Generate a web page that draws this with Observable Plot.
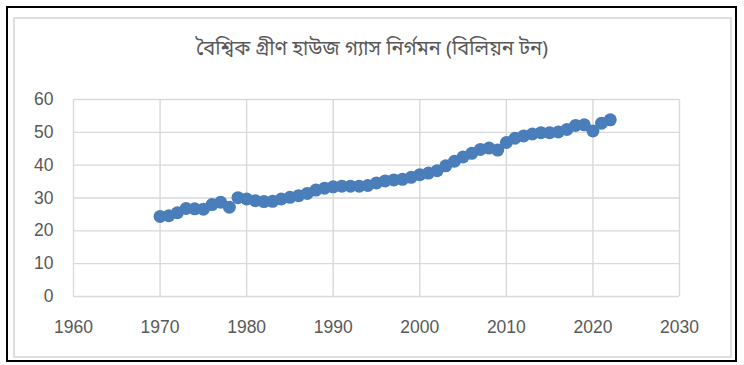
<!DOCTYPE html>
<html>
<head>
<meta charset="utf-8">
<script src="https://cdn.jsdelivr.net/npm/d3@7"></script>
<script src="https://cdn.jsdelivr.net/npm/@observablehq/plot@0.6"></script>
<style>
  html, body { margin: 0; padding: 0; background: #fff; }
  #wrap { position: relative; width: 744px; height: 365px; overflow: hidden; }
  #outer { position: absolute; left: 6px; top: 6px; width: 731px; height: 356px; border: 2.5px solid #000; box-sizing: border-box; }
  #inner { position: absolute; left: 13px; top: 17px; width: 719px; height: 341px; border: 2px solid #dedede; box-sizing: border-box; }
  #title { position: absolute; left: 0; width: 744px; top: 35px; text-align: center; font-family: "Noto Sans Bengali", "Noto Sans", "DejaVu Sans", sans-serif; font-size: 20px; color: #595959; line-height: 30px; }
  #chart { position: absolute; left: 0; top: 0; }
</style>
</head>
<body>
<div id="wrap">
  <div id="outer"></div>
  <div id="inner"></div>
  <div id="chart"></div>
  <div id="title">বৈশ্বিক গ্রীণ হাউজ গ্যাস নির্গমন (বিলিয়ন টন)</div>
</div>
<script>
const title = "বৈশ্বিক গ্রীণ হাউজ গ্যাস নির্গমন (বিলিয়ন টন)";
const years = [1970,1971,1972,1973,1974,1975,1976,1977,1978,1979,
  1980,1981,1982,1983,1984,1985,1986,1987,1988,1989,
  1990,1991,1992,1993,1994,1995,1996,1997,1998,1999,
  2000,2001,2002,2003,2004,2005,2006,2007,2008,2009,
  2010,2011,2012,2013,2014,2015,2016,2017,2018,2019,
  2020,2021,2022];
const emissions = [24.4,24.6,25.5,26.8,26.7,26.6,28.0,28.7,27.2,30.1,
  29.7,29.2,28.9,29.0,29.7,30.2,30.7,31.4,32.4,33.0,
  33.4,33.6,33.6,33.6,33.8,34.6,35.2,35.5,35.7,36.3,
  37.1,37.6,38.3,39.8,41.2,42.5,43.6,44.8,45.2,44.6,
  46.9,48.2,48.9,49.5,49.9,49.9,50.1,50.9,52.1,52.3,
  50.4,52.8,53.8];
const xTicks = [1960,1970,1980,1990,2000,2010,2020,2030];
const yTicks = [0,10,20,30,40,50,60];

const data = years.map((y, i) => ({year: y, value: emissions[i]}));

const chart = Plot.plot({
  width: 744,
  height: 365,
  marginLeft: 73,
  marginRight: 65,
  marginTop: 99,
  marginBottom: 69,
  style: {fontFamily: "'Liberation Sans', Arial, sans-serif", fontSize: "17.5px", color: "#595959", background: "transparent"},
  x: {domain: [1960, 2030]},
  y: {domain: [0, 60]},
  marks: [
    Plot.gridX(xTicks, {stroke: "#d9d9d9", strokeOpacity: 1, strokeWidth: 1.4}),
    Plot.gridY(yTicks, {stroke: "#d9d9d9", strokeOpacity: 1, strokeWidth: 1.4}),
    Plot.axisX({ticks: xTicks, tickSize: 0, tickPadding: 24, tickFormat: d => String(d), label: null}),
    Plot.axisY({ticks: yTicks, tickSize: 0, tickPadding: 20, label: null}),
    Plot.dot(data, {x: "year", y: "value", r: 6.5, fill: "#4a7ebb", stroke: "none"})
  ]
});
document.getElementById("chart").appendChild(chart);
</script>
</body>
</html>
